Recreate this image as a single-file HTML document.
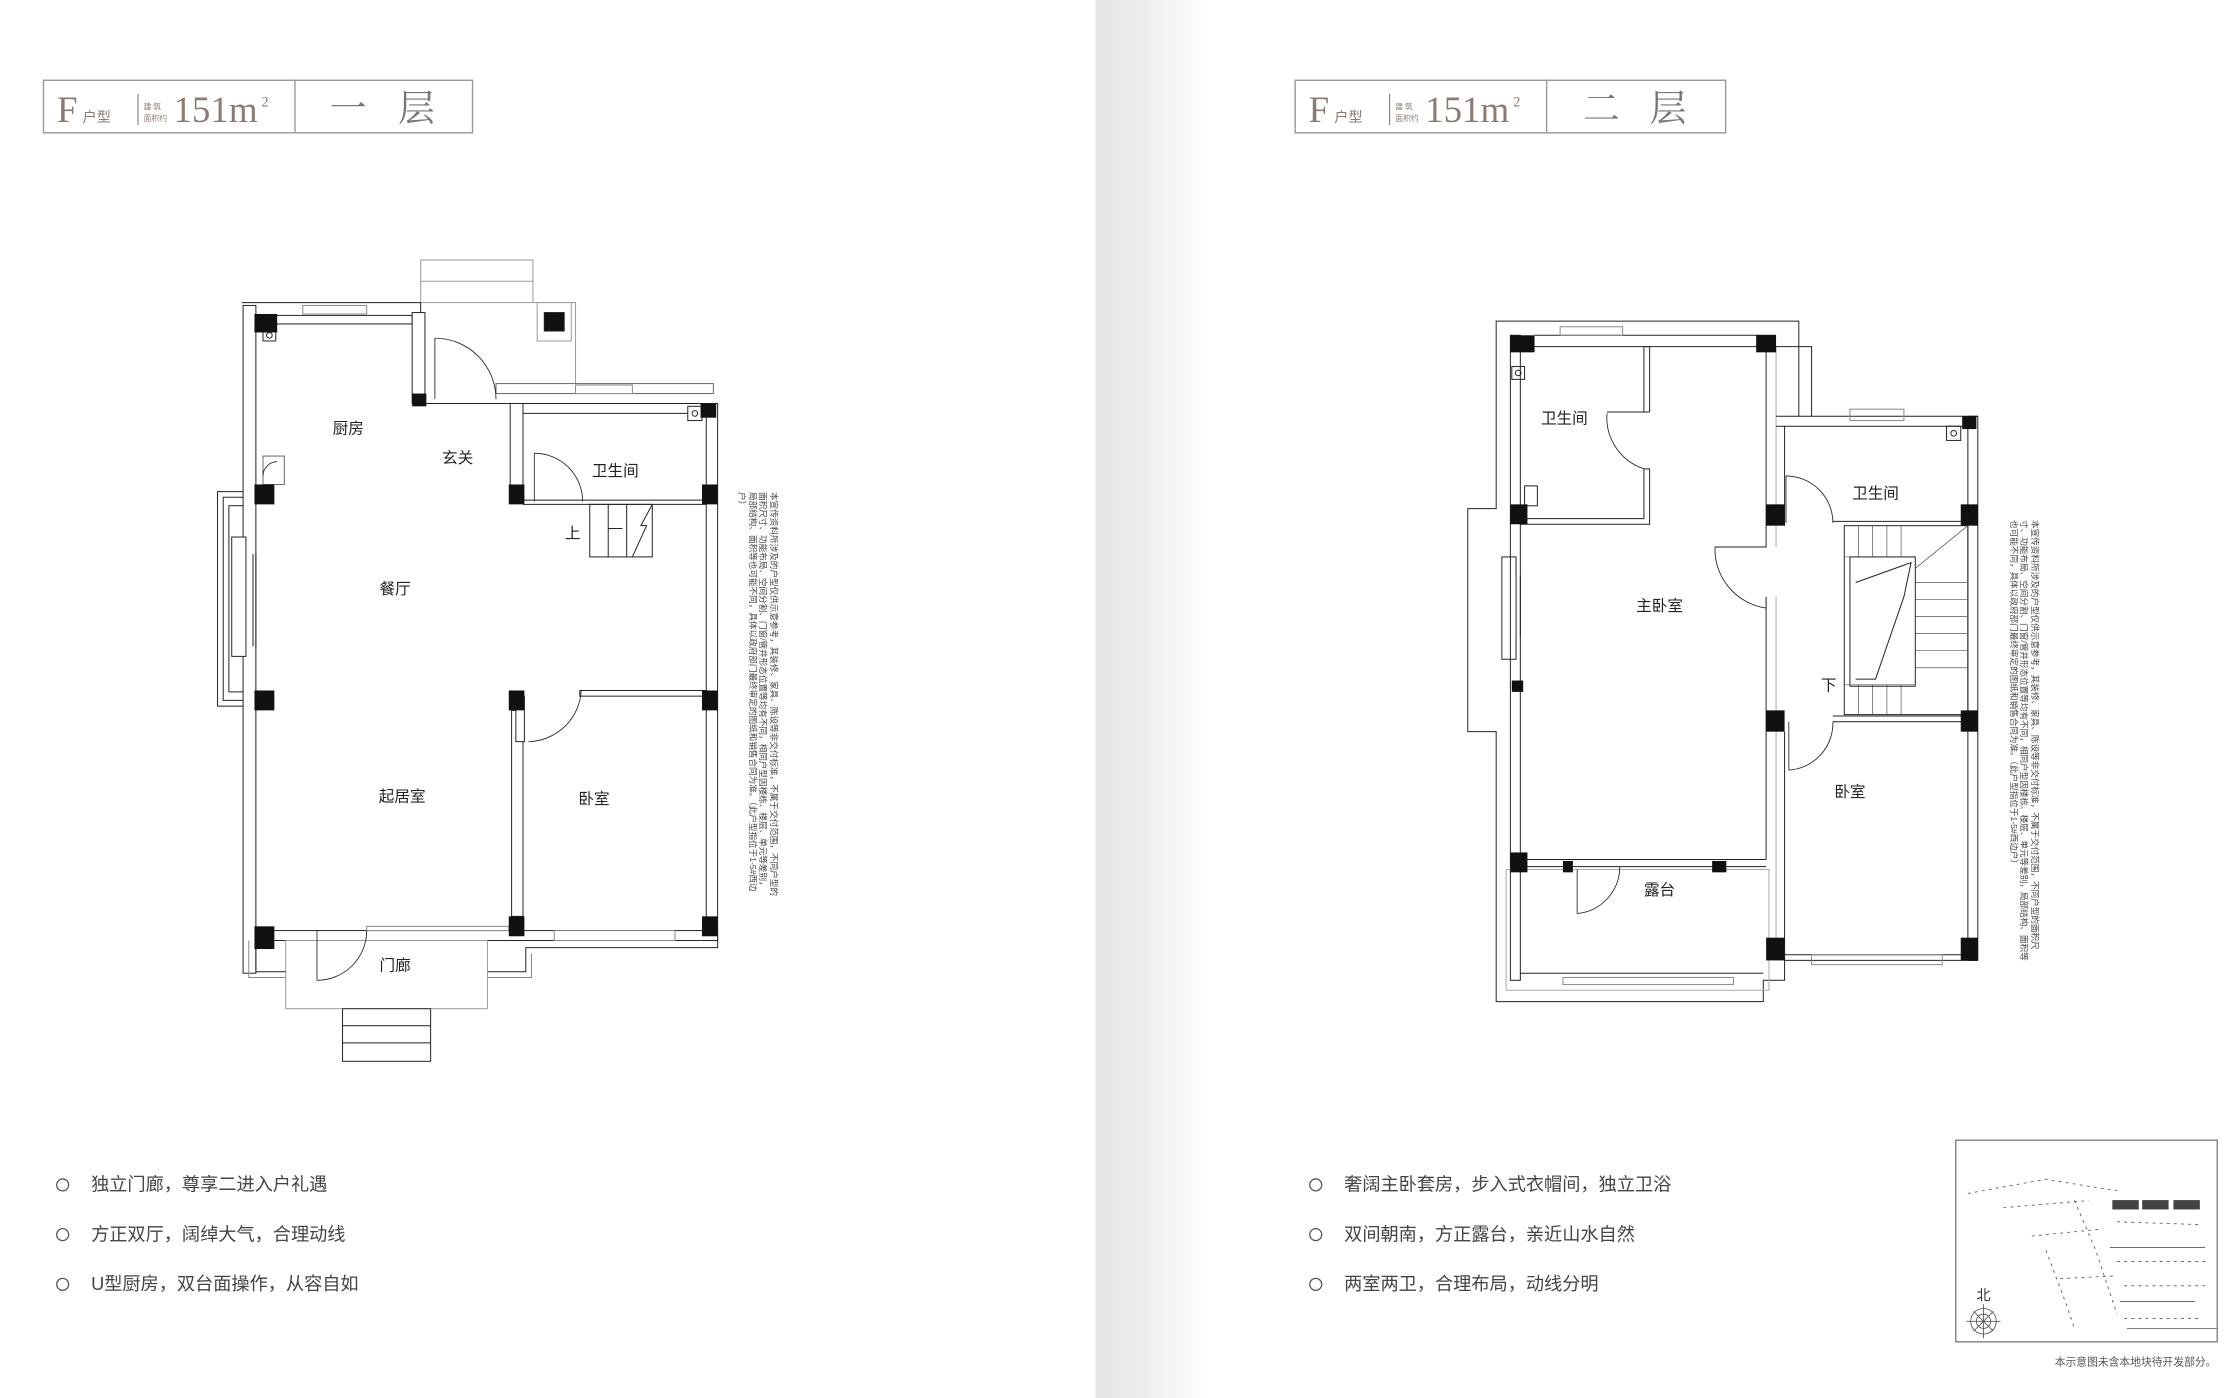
<!DOCTYPE html>
<html><head><meta charset="utf-8">
<style>
html,body{margin:0;padding:0;background:#fff;}
body{width:2228px;height:1398px;position:relative;overflow:hidden;font-family:"Liberation Sans","Noto Sans CJK SC",sans-serif;}
svg{position:absolute;left:0;top:0;}
.vt{position:absolute;font-size:8.6px;line-height:10.5px;color:#444;transform-origin:0 0;transform:rotate(90deg);white-space:normal;}
</style></head><body>
<svg width="2228" height="1398" viewBox="0 0 1568 984" xmlns="http://www.w3.org/2000/svg">
<defs>
<linearGradient id="g" x1="0" x2="1" y1="0" y2="0">
<stop offset="0" stop-color="#e4e4e4"/><stop offset="0.45" stop-color="#eeeeee"/><stop offset="1" stop-color="#ffffff"/>
</linearGradient>
</defs>
<rect x="771" y="0" width="80" height="984" fill="url(#g)"/>

<!-- Headers -->
<g fill="none" stroke="#999" stroke-width="1">
<rect x="30.5" y="56.5" width="302" height="37"/><line x1="207.5" y1="56" x2="207.5" y2="94"/>
<rect x="911.5" y="56.5" width="303" height="37"/><line x1="1088.5" y1="56" x2="1088.5" y2="94"/>
</g>
<g font-family="Liberation Serif, Noto Serif CJK SC, serif" fill="#8c7b6e">
<text x="40" y="86" font-size="26">F</text>
<text x="58" y="86" font-size="10" font-family="Noto Sans CJK SC,sans-serif">户型</text>
<line x1="97" y1="66" x2="97" y2="88" stroke="#8c7b6e" stroke-width="0.8"/>
<text x="101" y="77" font-size="5.5" font-family="Noto Sans CJK SC,sans-serif">建 筑</text>
<text x="101" y="85" font-size="5.5" font-family="Noto Sans CJK SC,sans-serif">面积约</text>
<text x="122" y="86" font-size="26">151m</text>
<text x="184" y="75" font-size="10">2</text>
<text x="921" y="86" font-size="26">F</text>
<text x="939" y="86" font-size="10" font-family="Noto Sans CJK SC,sans-serif">户型</text>
<line x1="978" y1="66" x2="978" y2="88" stroke="#8c7b6e" stroke-width="0.8"/>
<text x="982" y="77" font-size="5.5" font-family="Noto Sans CJK SC,sans-serif">建 筑</text>
<text x="982" y="85" font-size="5.5" font-family="Noto Sans CJK SC,sans-serif">面积约</text>
<text x="1003" y="86" font-size="26">151m</text>
<text x="1065" y="75" font-size="10">2</text>
</g>
<g font-family="Noto Serif CJK SC, serif" fill="#777" font-size="26">
<text x="232" y="85">一</text><text x="280" y="85">层</text>
<text x="1114" y="85">二</text><text x="1161" y="85">层</text>
</g>

<!-- PLAN 1 -->
<g fill="#fff" stroke="#222" stroke-width="0.7">
<rect x="296" y="183" width="79" height="30" stroke="#999"/>
<line x1="296" y1="198" x2="375" y2="198" stroke="#999"/>
<polyline points="375,213 405,213 405,270" fill="none" stroke="#999"/>
<rect x="378" y="213" width="24" height="27" stroke="#999"/>
<rect x="383" y="220" width="14" height="13" fill="#111"/>
<polyline points="170,213 296,213 296,284 290,284" fill="none"/>
<rect x="171" y="215" width="9" height="470" />
<rect x="180" y="222" width="110" height="6"/>
<rect x="213" y="215" width="45" height="6" stroke="#888"/>
<rect x="290" y="220" width="9" height="64"/>
<line x1="299" y1="284" x2="505" y2="284"/>
<rect x="349" y="270" width="153" height="7" stroke="#666"/>
<rect x="405" y="271" width="40" height="6" stroke="#888"/>
<rect x="359" y="284" width="9" height="70"/>
<line x1="368" y1="291" x2="497" y2="291"/>
<line x1="368" y1="352" x2="497" y2="352"/>
<line x1="368" y1="355" x2="497" y2="355"/>
<rect x="497" y="284" width="8" height="376"/>
<rect x="484" y="286" width="10" height="10"/>
<circle cx="489" cy="291" r="2"/>
<rect x="408" y="486" width="89" height="4"/>
<rect x="360" y="500" width="8" height="145"/>
<rect x="363" y="490" width="6" height="32"/>
<rect x="180" y="655" width="325" height="7"/>
<rect x="258" y="652" width="100" height="3" stroke="#888"/>
<rect x="390" y="655" width="85" height="7" stroke="#888"/>
<polyline points="180,662 180,684 201,684" fill="none"/>
<polyline points="175,662 175,688 201,688" fill="none" stroke="#888"/>
<polyline points="343,684 370,684 370,667 505,667 505,660" fill="none"/>
<polyline points="343,688 374,688 374,671" fill="none" stroke="#888"/>
<polyline points="171,346 153,346 153,497 171,497" fill="none"/>
<polyline points="171,350 157,350 157,493 171,493" fill="none"/>
<polyline points="171,356 161,356 161,487 171,487" fill="none"/>
<rect x="163" y="378" width="10" height="84"/>
<line x1="178" y1="390" x2="178" y2="455"/><line x1="180" y1="390" x2="180" y2="455"/>
<rect x="185" y="321" width="15" height="20" stroke="#666"/>
<rect x="201" y="662" width="142" height="48" stroke="#999"/>
<rect x="241" y="710" width="62" height="37"/>
<line x1="241" y1="722" x2="303" y2="722"/><line x1="241" y1="734" x2="303" y2="734"/>
<g stroke="#222" fill="none">
<rect x="415" y="355" width="44" height="37"/>
<line x1="428" y1="355" x2="428" y2="392"/><line x1="441" y1="355" x2="441" y2="392"/>
<polyline points="459,355 451,370 455,370 445,392"/>
<line x1="428" y1="372" x2="438" y2="372"/>
</g>
<rect x="185" y="232" width="9" height="8"/><circle cx="189.5" cy="236" r="2"/>
</g>
<g fill="#111">
<rect x="179" y="221" width="16" height="13"/><rect x="290" y="277" width="10" height="9"/>
<rect x="493" y="284" width="11" height="10"/>
<rect x="179" y="341" width="14" height="14"/><rect x="358" y="341" width="11" height="14"/><rect x="494" y="341" width="11" height="14"/>
<rect x="179" y="486" width="14" height="14"/><rect x="358" y="486" width="11" height="14"/><rect x="494" y="486" width="11" height="14"/>
<rect x="179" y="652" width="14" height="16"/><rect x="358" y="645" width="11" height="14"/><rect x="494" y="645" width="11" height="14"/>
</g>
<g fill="none" stroke="#222" stroke-width="0.6">
<path d="M306,238 A43,43 0 0 1 349,281"/><line x1="306" y1="238" x2="306" y2="281"/>
<path d="M376,319 A34,34 0 0 1 410,353"/><line x1="376" y1="319" x2="376" y2="353"/>
<path d="M409,486 A38,38 0 0 1 372,522"/>
<path d="M258,655 A35,35 0 0 1 223,690"/><line x1="223" y1="655" x2="223" y2="690"/>
<path d="M185,335 A10,10 0 0 1 195,325"/>
</g>
<g font-size="11" fill="#222" text-anchor="middle">
<text x="245" y="305">厨房</text><text x="322" y="326">玄关</text><text x="433" y="335">卫生间</text>
<text x="403" y="379">上</text><text x="278" y="418">餐厅</text><text x="283" y="564">起居室</text>
<text x="418" y="566">卧室</text><text x="278" y="683">门廊</text>
</g>

<!-- PLAN 2 -->
<g fill="none" stroke="#222" stroke-width="0.7">
<polyline points="1266,293 1266,226 1053,226 1053,358 1033,358 1033,515 1053,515 1053,705 1241,705 1241,690"/>
<polyline points="1241,690 1256,690 1256,676"/>
<rect x="1063" y="236" width="7" height="454"/>
<line x1="1070" y1="244" x2="1250" y2="244"/>
<line x1="1080" y1="236" x2="1250" y2="236"/>
<rect x="1098" y="230" width="44" height="6" stroke="#888"/>
<polyline points="1070,369 1161,369 1161,330 1157,330 1157,365 1070,365"/>
<polyline points="1161,290 1157,290 1157,244 1161,244 1161,290"/>
<line x1="1131" y1="290" x2="1157" y2="290"/>
<polyline points="1243,244 1243,385 1207,385"/>
<line x1="1250" y1="244" x2="1250" y2="385" stroke="#aaa"/>
<line x1="1243" y1="420" x2="1243" y2="605"/>
<line x1="1250" y1="420" x2="1250" y2="676" stroke="#aaa"/>
<polyline points="1250,244 1275,244 1275,293"/>
<line x1="1250" y1="293" x2="1392" y2="293"/>
<line x1="1250" y1="300" x2="1385" y2="300"/>
<rect x="1302" y="288" width="38" height="8" stroke="#888"/>
<rect x="1385" y="293" width="7" height="383"/>
<line x1="1256" y1="300" x2="1256" y2="370"/>
<line x1="1290" y1="367" x2="1385" y2="367"/>
<rect x="1370" y="300" width="10" height="10"/><circle cx="1375" cy="305" r="2"/>
<rect x="1298" y="370" width="87" height="133"/>
<g stroke="#555" stroke-width="0.5">
<line x1="1308" y1="370" x2="1308" y2="392"/><line x1="1318" y1="370" x2="1318" y2="392"/><line x1="1328" y1="370" x2="1328" y2="392"/><line x1="1338" y1="370" x2="1338" y2="392"/>
<line x1="1308" y1="482" x2="1308" y2="503"/><line x1="1318" y1="482" x2="1318" y2="503"/><line x1="1328" y1="482" x2="1328" y2="503"/><line x1="1338" y1="482" x2="1338" y2="503"/>
<line x1="1348" y1="410" x2="1385" y2="410"/><line x1="1348" y1="422" x2="1385" y2="422"/><line x1="1348" y1="434" x2="1385" y2="434"/><line x1="1348" y1="446" x2="1385" y2="446"/><line x1="1348" y1="458" x2="1385" y2="458"/><line x1="1348" y1="470" x2="1385" y2="470"/>
<line x1="1298" y1="392" x2="1348" y2="392"/><line x1="1298" y1="482" x2="1348" y2="482"/>
<line x1="1385" y1="370" x2="1348" y2="400"/>
</g>
<rect x="1302" y="392" width="46" height="91"/>
<polyline points="1306,410 1345,396 1340,420 1320,478 1306,478"/>
<line x1="1290" y1="504" x2="1385" y2="504"/>
<line x1="1290" y1="508" x2="1385" y2="508"/>
<line x1="1256" y1="515" x2="1256" y2="676"/>
<line x1="1256" y1="672" x2="1392" y2="672"/>
<line x1="1256" y1="676" x2="1392" y2="676"/>
<rect x="1275" y="672" width="92" height="7" stroke="#888"/>
<line x1="1070" y1="605" x2="1243" y2="605"/>
<line x1="1070" y1="610" x2="1243" y2="610"/>
<rect x="1060" y="612" width="185" height="85" stroke="#aaa"/>
<line x1="1070" y1="685" x2="1241" y2="685"/>
<rect x="1100" y="688" width="120" height="5" stroke="#888"/>
<rect x="1057" y="392" width="10" height="72"/>
<line x1="1070" y1="405" x2="1070" y2="448"/>
<rect x="1073" y="342" width="9" height="14"/>
<rect x="1064" y="258" width="9" height="9"/><circle cx="1068.5" cy="262.5" r="2"/>
</g>
<g fill="#111">
<rect x="1063" y="236" width="17" height="12"/><rect x="1236" y="236" width="14" height="12"/>
<rect x="1063" y="355" width="12" height="14"/><rect x="1243" y="355" width="13" height="15"/><rect x="1380" y="355" width="12" height="15"/>
<rect x="1381" y="293" width="10" height="9"/><rect x="1064" y="479" width="8" height="8"/>
<rect x="1063" y="600" width="12" height="14"/><rect x="1100" y="606" width="7" height="8"/><rect x="1205" y="606" width="10" height="8"/>
<rect x="1243" y="500" width="13" height="15"/><rect x="1380" y="500" width="12" height="15"/>
<rect x="1243" y="660" width="13" height="16"/><rect x="1380" y="660" width="12" height="16"/>
</g>
<g fill="none" stroke="#222" stroke-width="0.6">
<path d="M1131,291 A38,38 0 0 0 1157,330"/>
<path d="M1207,385 A42,42 0 0 0 1243,428"/>
<path d="M1257,335 A33,33 0 0 1 1290,368"/><line x1="1257" y1="335" x2="1257" y2="368"/>
<path d="M1290,508 A33,33 0 0 1 1259,542"/><line x1="1259" y1="508" x2="1259" y2="542"/>
<path d="M1140,610 A33,33 0 0 1 1110,643"/><line x1="1110" y1="612" x2="1110" y2="643"/>
</g>
<g font-size="11" fill="#222" text-anchor="middle">
<text x="1101" y="298">卫生间</text><text x="1320" y="351">卫生间</text><text x="1168" y="430">主卧室</text>
<text x="1287" y="486">下</text><text x="1302" y="561">卧室</text><text x="1168" y="630">露台</text>
</g>

<!-- bullets -->
<g font-size="12.8" fill="#444">
<circle cx="44" cy="834" r="4.2" fill="none" stroke="#555" stroke-width="0.9"/><text x="64" y="838">独立门廊，尊享二进入户礼遇</text>
<circle cx="44" cy="869" r="4.2" fill="none" stroke="#555" stroke-width="0.9"/><text x="64" y="873">方正双厅，阔绰大气，合理动线</text>
<circle cx="44" cy="904" r="4.2" fill="none" stroke="#555" stroke-width="0.9"/><text x="64" y="908">U型厨房，双台面操作，从容自如</text>
<circle cx="926" cy="834" r="4.2" fill="none" stroke="#555" stroke-width="0.9"/><text x="946" y="838">奢阔主卧套房，步入式衣帽间，独立卫浴</text>
<circle cx="926" cy="869" r="4.2" fill="none" stroke="#555" stroke-width="0.9"/><text x="946" y="873">双间朝南，方正露台，亲近山水自然</text>
<circle cx="926" cy="904" r="4.2" fill="none" stroke="#555" stroke-width="0.9"/><text x="946" y="908">两室两卫，合理布局，动线分明</text>
</g>

<!-- site map -->
<rect x="1376.5" y="802.5" width="184" height="142" fill="#fff" stroke="#666" stroke-width="0.8"/>
<g fill="#444" stroke="#444" stroke-width="0.6">
<rect x="1487" y="845" width="18" height="6"/><rect x="1508" y="845" width="18" height="6"/><rect x="1530" y="845" width="18" height="6"/>
</g>
<g stroke="#555" stroke-width="0.6" fill="none" stroke-dasharray="2,3">
<polyline points="1385,840 1440,830 1470,835 1490,838"/>
<line x1="1410" y1="850" x2="1470" y2="845"/>
<line x1="1430" y1="870" x2="1480" y2="865"/><line x1="1490" y1="860" x2="1550" y2="862"/>
<line x1="1485" y1="878" x2="1552" y2="878" stroke-dasharray="none"/>
<line x1="1490" y1="888" x2="1552" y2="888"/><line x1="1450" y1="900" x2="1490" y2="898"/>
<line x1="1495" y1="905" x2="1552" y2="905"/>
<line x1="1492" y1="916" x2="1545" y2="916" stroke-dasharray="none"/>
<line x1="1495" y1="928" x2="1550" y2="928"/>
<line x1="1497" y1="935" x2="1560" y2="935" stroke-dasharray="none"/>
<polyline points="1460,845 1475,880 1490,925"/>
<polyline points="1440,880 1455,920 1460,935"/>
</g>
<text x="1396" y="915" font-size="10" fill="#333" text-anchor="middle">北</text>
<g stroke="#555" stroke-width="0.6" fill="none">
<circle cx="1396" cy="930" r="9"/><circle cx="1396" cy="930" r="5"/>
<line x1="1384" y1="930" x2="1408" y2="930"/><line x1="1396" y1="918" x2="1396" y2="942"/>
<line x1="1389" y1="923" x2="1403" y2="937"/><line x1="1403" y1="923" x2="1389" y2="937"/>
</g>
<text x="1560" y="961" font-size="7.6" fill="#555" text-anchor="end">本示意图未含本地块待开发部分。</text>
</svg>

<div class="vt" style="left:779px;top:492px;width:405px;">本宣传资料所涉及的户型仅供示意参考，其装修、家具、陈设等非交付标准，不属于交付范围，不同户型的面积尺寸、功能布局、空间分割、门窗/管井形态位置等均有不同，相同户型因楼栋、楼层、单元等差别，局部结构、面积等也可能不同，具体以政府部门最终审定的图纸和销售合同为准。（此户型指位于1-5#西边户）</div>
<div class="vt" style="left:2040px;top:520px;width:445px;">本宣传资料所涉及的户型仅供示意参考，其装修、家具、陈设等非交付标准，不属于交付范围，不同户型的面积尺寸、功能布局、空间分割、门窗/管井形态位置等均有不同，相同户型因楼栋、楼层、单元等差别，局部结构、面积等也可能不同，具体以政府部门最终审定的图纸和销售合同为准。（此户型指位于1-5#西边户）</div>
</body></html>
